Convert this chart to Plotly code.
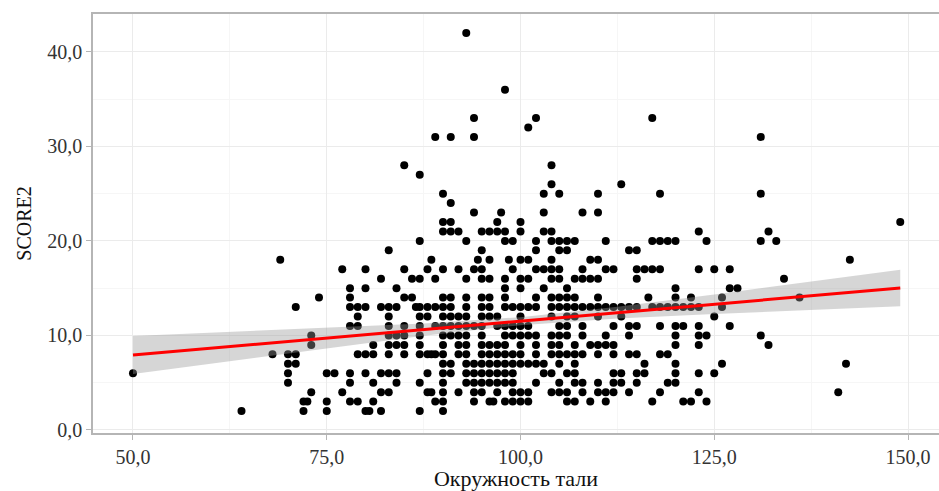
import plotly.graph_objects as go

# Waist circumference (cm) and SCORE2 (%) for each patient
waist = [
    50, 64, 68, 69, 70, 70, 71, 70, 70, 71, 71,
    77, 80, 82, 78, 80, 74, 78, 78, 79, 80, 82, 79, 78, 79, 73, 73, 81, 79, 80, 81,
    75, 76, 78, 80, 82, 78, 81, 73, 77, 82, 72, 72.5, 75, 78, 79, 81, 72, 75, 80, 80.5, 82,
    # 83 .. 95
    91, 94, 90, 91, 90, 91, 92, 95, 87, 93, 83, 95, 88.5, 94.5,
    85, 88, 90, 92, 94, 95, 86, 87, 89, 93, 95, 84,
    85, 86, 90, 91, 93, 95,
    83, 84, 86.5, 87, 88, 89, 90, 91, 93, 95,
    83, 87, 88, 90, 91, 92, 93, 95,
    83, 85, 87, 89, 90, 91, 92, 93, 94, 95,
    83, 84, 85, 87, 90, 91, 92, 93, 95,
    83, 84, 85, 87, 90, 92, 93, 95,
    83, 85, 87, 88, 88.5, 89, 90, 92, 93, 95,
    90, 91, 93, 94, 95,
    83, 84, 88, 90, 91, 93, 94, 95,
    84, 87, 90, 93, 94, 95,
    83, 88, 88.5, 90, 92, 94, 95,
    89, 90, 94, 87, 90,
    # 96 .. 106
    97.5, 103, 97, 100, 96, 97, 98, 100, 103, 104, 98, 99, 102, 104, 105, 106,
    102, 105, 106, 96, 98.5, 100, 101, 104, 99, 102, 103, 104, 105,
    96, 98, 100, 101, 104, 105, 98, 100, 103, 106, 96, 98, 102, 104, 105, 106,
    96, 98, 99, 100, 101, 102, 104, 105, 106, 96, 97, 100, 104, 106,
    97, 98, 99, 100, 101, 105, 106, 98, 99, 100, 101, 102, 104, 105, 106,
    96, 97, 98, 100, 102, 104, 105, 96, 97, 98, 99, 100, 102, 104, 105, 106,
    96, 97, 98, 99, 100, 101, 102, 103, 105, 96, 97, 98, 99, 103, 104, 106,
    96, 97, 98, 99, 102, 105, 97, 99, 100, 101, 104, 105, 106,
    96, 96.5, 98, 99, 100, 101, 106,
    # upper outliers
    93, 98, 94, 89, 91, 94, 85, 87, 90, 102, 101, 117, 131, 104, 104, 113,
    103, 105, 110, 118, 131,
    # 107 .. 120
    107, 107, 107, 107, 107, 107, 107, 107, 107, 107, 107, 108,
    110, 111, 117, 118, 114, 115, 109, 110, 108, 111, 112, 115, 116, 117, 118,
    108, 109, 110, 115, 110, 116.5,
    108, 109, 110, 111, 112, 113, 114, 115, 117, 118, 110, 113,
    108, 112, 114, 115, 118, 108, 111, 114, 109, 110, 111, 112,
    108, 110, 112, 114, 115, 118, 116, 112, 113, 115, 116,
    108, 110, 112, 113, 115, 108, 110, 111, 112, 114, 118, 109, 111, 117,
    119, 119, 119, 119,
    120, 120, 120, 120, 120, 120, 120, 120, 120, 120,
    # 121 and beyond
    123, 132, 124, 131, 123, 125, 127, 127, 128, 122, 126,
    121, 122, 123, 126, 125, 121, 123, 127, 123, 124, 131, 123, 132,
    126, 123, 125, 123, 121, 122, 124,
    133, 134, 136, 142.5, 142, 141, 149,
]

score2 = [
    6, 2, 8, 18, 8, 7, 7, 6, 5, 13, 8,
    17, 17, 16, 15, 15, 14, 14, 13, 13, 13, 13, 12, 11, 11, 10, 9, 9, 8, 8, 8,
    6, 6, 6, 6, 6, 5, 5, 4, 4, 4, 3, 3, 3, 3, 3, 3, 2, 2, 2, 2, 2,
    # 83 .. 95
    24, 23, 22, 22, 21, 21, 21, 21, 20, 20, 19, 19, 18, 18,
    17, 17, 17, 17, 17, 17, 16, 16, 16, 16, 16, 15,
    14, 14, 14, 14, 14, 14,
    13, 13, 13, 13, 13, 13, 13, 13, 13, 13,
    12, 12, 12, 12, 12, 12, 12, 12,
    11, 11, 11, 11, 11, 11, 11, 11, 11, 11,
    10, 10, 10, 10, 10, 10, 10, 10, 10,
    9, 9, 9, 9, 9, 9, 9, 9,
    8, 8, 8, 8, 8, 8, 8, 8, 8, 8,
    7, 7, 7, 7, 7,
    6, 6, 6, 6, 6, 6, 6, 6,
    5, 5, 5, 5, 5, 5,
    4, 4, 4, 4, 4, 4, 4,
    3, 3, 3, 2, 2,
    # 96 .. 106
    23, 23, 22, 22, 21, 21, 21, 21, 21, 21, 20, 20, 20, 20, 20, 20,
    19, 19, 19, 18, 18, 18, 18, 18, 17, 17, 17, 17, 17,
    16, 16, 16, 16, 16, 16, 15, 15, 15, 15, 14, 14, 14, 14, 14, 14,
    13, 13, 13, 13, 13, 13, 13, 13, 13, 12, 12, 12, 12, 12,
    11, 11, 11, 11, 11, 11, 11, 10, 10, 10, 10, 10, 10, 10, 10,
    9, 9, 9, 9, 9, 9, 9, 8, 8, 8, 8, 8, 8, 8, 8, 8,
    7, 7, 7, 7, 7, 7, 7, 7, 7, 6, 6, 6, 6, 6, 6, 6,
    5, 5, 5, 5, 5, 5, 4, 4, 4, 4, 4, 4, 4,
    3, 3, 3, 3, 3, 3, 3,
    # upper outliers
    42, 36, 33, 31, 31, 31, 28, 27, 25, 33, 32, 33, 31, 28, 26, 26,
    25, 25, 25, 25, 25,
    # 107 .. 120
    20, 16, 14, 13, 12, 9, 8, 7, 6, 5, 3, 23,
    23, 20, 20, 20, 19, 19, 18, 18, 17, 17, 17, 17, 17, 17, 17,
    16, 16, 16, 16, 14, 14,
    13, 13, 13, 13, 13, 13, 13, 13, 13, 13, 12, 12,
    11, 11, 11, 11, 11, 10, 10, 10, 9, 9, 9, 9,
    8, 8, 8, 8, 8, 8, 7, 6, 6, 6, 6,
    5, 5, 5, 5, 5, 4, 4, 4, 4, 4, 4, 3, 3, 3,
    20, 13, 8, 5,
    20, 15, 14, 13, 11, 10, 9, 7, 6, 5,
    # 121 and beyond
    21, 21, 20, 20, 17, 17, 17, 15, 15, 14, 14,
    13, 13, 13, 13, 12, 11, 11, 11, 10, 10, 10, 9, 9,
    7, 6, 6, 4, 3, 3, 3,
    20, 16, 14, 18, 7, 4, 22,
]

# Linear fit with its 95% confidence band
fit_x = [50, 62.5, 75, 87.5, 100, 112.5, 125, 137.5, 149]
fit_mid = [7.93, 8.83, 9.72, 10.62, 11.51, 12.41, 13.30, 14.20, 15.02]
fit_lo = [5.93, 7.30, 8.65, 9.97, 11.09, 11.78, 12.26, 12.70, 13.09]
fit_hi = [9.93, 10.36, 10.79, 11.27, 11.93, 13.04, 14.34, 15.70, 16.95]

x_ticks = [50, 75, 100, 125, 150]
y_ticks = [0, 10, 20, 30, 40]

FONT = "Liberation Serif"

fig = go.Figure()

fig.add_trace(go.Scatter(
    x=waist, y=score2, mode="markers",
    marker=dict(color="black", size=8, line=dict(width=0)),
    showlegend=False, hoverinfo="skip",
))

fig.add_trace(go.Scatter(
    x=fit_x, y=fit_lo, mode="lines", line=dict(width=0),
    showlegend=False, hoverinfo="skip",
))
fig.add_trace(go.Scatter(
    x=fit_x, y=fit_hi, mode="lines", line=dict(width=0),
    fill="tonexty", fillcolor="rgba(153,153,153,0.4)",
    showlegend=False, hoverinfo="skip",
))
fig.add_trace(go.Scatter(
    x=fit_x, y=fit_mid, mode="lines",
    line=dict(color="#ff0000", width=3),
    showlegend=False, hoverinfo="skip",
))

axis_common = dict(
    showline=True, linecolor="#b5b5b5", linewidth=1.5,
    ticks="outside", ticklen=5, tickcolor="#b5b5b5", tickwidth=1,
    showgrid=True, gridcolor="#ebebeb", gridwidth=1,
    zeroline=False,
    tickfont=dict(family=FONT, size=20, color="#333333"),
    tickformat=".1f",
)

# x axis mirrored to draw the top border; the panel runs past the right edge
fig.update_xaxes(
    **axis_common,
    mirror=True,
    range=[44.84, 154.0],
    tickvals=x_ticks,
    minor=dict(dtick=12.5, tick0=0, showgrid=True, gridcolor="#f6f6f6", ticks=""),
    title=dict(text="Окружность тали", font=dict(family=FONT, size=22, color="#111111"), standoff=8),
)
fig.update_yaxes(
    **axis_common,
    mirror=False,
    range=[-0.32, 44.0],
    tickvals=y_ticks,
    minor=dict(dtick=5, tick0=0, showgrid=True, gridcolor="#f6f6f6", ticks=""),
    title=dict(text="SCORE2", font=dict(family=FONT, size=20, color="#111111"), standoff=10),
)

fig.update_layout(
    width=939, height=491,
    margin=dict(l=93, r=0, t=14, b=56),
    paper_bgcolor="white", plot_bgcolor="white",
    separators=", ",
    font=dict(family=FONT),
)

fig.write_html("out.html")
